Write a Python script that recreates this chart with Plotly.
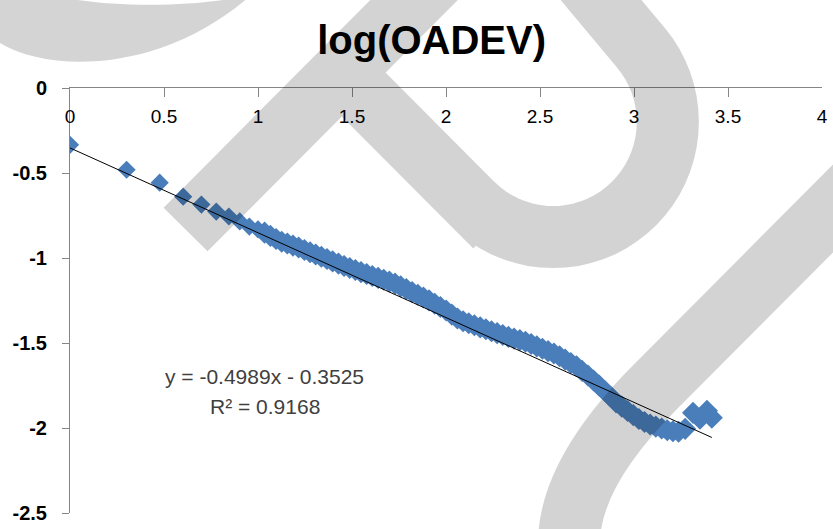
import math
import plotly.graph_objects as go

# ---------------- data ----------------
iso_x = [0, 0.301, 0.477, 0.602, 0.699, 0.778, 0.845, 0.903, 0.954, 1.0]
iso_y = [-0.334, -0.481, -0.557, -0.639, -0.686, -0.727, -0.756, -0.785, -0.815, -0.832]

dense_x = [1.035, 1.066, 1.096, 1.126, 1.156, 1.186, 1.216, 1.247, 1.277, 1.307,
           1.337, 1.367, 1.397, 1.428, 1.458, 1.488, 1.518, 1.548, 1.578, 1.608,
           1.639, 1.669, 1.699, 1.729, 1.759, 1.789, 1.820, 1.850, 1.880, 1.910,
           1.940, 1.970, 2.001, 2.031, 2.061, 2.091, 2.121, 2.151, 2.182, 2.212,
           2.242, 2.272, 2.302, 2.332, 2.362, 2.393, 2.423, 2.453, 2.483, 2.513,
           2.543, 2.574, 2.604, 2.634, 2.664, 2.694, 2.724, 2.755, 2.785, 2.815,
           2.845, 2.875, 2.905, 2.935, 2.966, 2.996, 3.026, 3.056, 3.086, 3.116,
           3.147, 3.177, 3.207, 3.237]
dense_y = [-0.851, -0.870, -0.888, -0.904, -0.915, -0.927, -0.938, -0.953, -0.966, -0.979,
           -0.993, -1.006, -1.020, -1.033, -1.047, -1.059, -1.071, -1.083, -1.094, -1.106,
           -1.117, -1.128, -1.139, -1.151, -1.167, -1.183, -1.201, -1.216, -1.232, -1.249,
           -1.269, -1.288, -1.309, -1.333, -1.356, -1.372, -1.384, -1.396, -1.408, -1.419,
           -1.431, -1.442, -1.453, -1.464, -1.474, -1.483, -1.493, -1.506, -1.520, -1.534,
           -1.548, -1.562, -1.578, -1.598, -1.618, -1.637, -1.664, -1.691, -1.721, -1.751,
           -1.782, -1.815, -1.849, -1.874, -1.900, -1.924, -1.947, -1.965, -1.979, -1.992,
           -2.003, -2.013, -2.019, -2.022]

end_x = [3.272, 3.314, 3.351, 3.388, 3.414]
end_y = [-2.005, -1.911, -1.946, -1.899, -1.940]

trend_slope = -0.4989
trend_intercept = -0.3525
trend_x = [0, 3.414]

x_ticks = [0, 0.5, 1, 1.5, 2, 2.5, 3, 3.5, 4]
x_ticktext = ["0", "0.5", "1", "1.5", "2", "2.5", "3", "3.5", "4"]
y_ticks = [0, -0.5, -1, -1.5, -2, -2.5]
y_ticktext = ["0", "-0.5", "-1", "-1.5", "-2", "-2.5"]

title_text = "log(OADEV)"
eq_text = "y = -0.4989x - 0.3525"
r2_text = "R² = 0.9168"

# ---------------- layout geometry ----------------
W, H = 833, 529
ML, MR, MT, MB = 70, 5, 88, 14.5
PW = W - ML - MR
PH = H - MT - MB


def pp(x, y):
    """pixel -> paper coordinates"""
    return (x - ML) / PW, (H - MB - y) / PH


def path_str(pts):
    s = []
    for i, (x, y) in enumerate(pts):
        a, b = pp(x, y)
        s.append(("M" if i == 0 else "L") + f"{a:.5f},{b:.5f}")
    return " ".join(s)


# watermark geometry (pixels)
cx, cy, rr = 557, 122, 115.6
loop_pts = [(344, 72.5), (475.25, 203.75)]
for deg in range(135, -41, -5):
    t = math.radians(deg)
    loop_pts.append((cx + rr * math.cos(t), cy + rr * math.sin(t)))
t40 = math.radians(-40)
ex, ey = cx + rr * math.cos(t40), cy + rr * math.sin(t40)
loop_pts.append((ex - 0.643 * 110, ey - 0.766 * 110))

band_b = [(186.5, 230), (450, -33.5)]
wm_path = path_str(band_b) + " " + path_str(loop_pts)


def qpath(cmds):
    out = []
    for c, pts in cmds:
        out.append(c + " ".join(f"{pp(x, y)[0]:.5f},{pp(x, y)[1]:.5f}" for x, y in pts))
    return " ".join(out)


band_d = qpath([("M", [(900, 148)]), ("L", [(660, 388)]), ("Q", [(573, 475), (573, 545)])])
band_a = qpath([("M", [(-5, -3)]), ("L", [(-5, 40)]),
                ("C", [(45, 74), (160, 74), (250, -3)]),
                ("L", [(240, -3)]),
                ("C", [(190, 7), (110, 7), (63, -3)])]) + " Z"

WM_OP = 0.17
shapes = [
    dict(type="path", xref="paper", yref="paper", path=wm_path,
         line=dict(color="black", width=62), fillcolor="rgba(0,0,0,0)",
         opacity=WM_OP, layer="above"),
    dict(type="path", xref="paper", yref="paper", path=band_d,
         line=dict(color="black", width=62), fillcolor="rgba(0,0,0,0)",
         opacity=WM_OP, layer="above"),
    dict(type="path", xref="paper", yref="paper", path=band_a,
         line=dict(width=0), fillcolor="black", opacity=WM_OP, layer="above"),
]

# ---------------- figure ----------------
fig = go.Figure()
fig.add_trace(go.Scatter(
    x=iso_x, y=iso_y, mode="markers",
    marker=dict(symbol="diamond", size=14, color="#4A7EBB", line=dict(width=0)),
    showlegend=False, hoverinfo="skip"))
fig.add_trace(go.Scatter(
    x=dense_x + end_x, y=dense_y + end_y, mode="markers",
    marker=dict(symbol="diamond", size=17, color="#4A7EBB", line=dict(width=0)),
    showlegend=False, hoverinfo="skip"))
fig.add_trace(go.Scatter(
    x=trend_x, y=[trend_slope * v + trend_intercept for v in trend_x],
    mode="lines", line=dict(color="black", width=1),
    showlegend=False, hoverinfo="skip"))

ex0, ey0 = pp(266.5, 378)
ex1, ey1 = pp(267, 408)
tx, _ = pp(434.5, 0)

fig.update_layout(
    width=W, height=H, autosize=False,
    margin=dict(l=ML, r=MR, t=MT, b=MB, pad=0),
    paper_bgcolor="white", plot_bgcolor="white",
    title=dict(text=title_text, x=tx, xref="paper", xanchor="center",
               y=1 - 40 / H, yref="container", yanchor="middle",
               font=dict(family="Liberation Sans, Arial", size=40,
                         color="black", weight="bold")),
    xaxis=dict(range=[0, 4], side="top", tickvals=x_ticks, ticktext=x_ticktext,
               ticks="inside", ticklen=9, tickcolor="#868686", tickwidth=1,
               ticklabelposition="inside", ticklabeloverflow="allow",
               ticklabelstandoff=14,
               showline=True, linecolor="#868686", linewidth=1,
               showgrid=False, zeroline=False,
               tickfont=dict(family="Liberation Sans, Arial", size=19, color="black")),
    yaxis=dict(range=[-2.5, 0], tickvals=y_ticks, ticktext=y_ticktext,
               ticks="outside", ticklen=7, tickcolor="#868686", tickwidth=1,
               ticklabelstandoff=11,
               showline=True, linecolor="#868686", linewidth=1,
               showgrid=False, zeroline=False,
               tickfont=dict(family="Liberation Sans, Arial", size=20, color="black",
                             weight="bold")),
    shapes=shapes,
    annotations=[
        dict(text=eq_text, x=ex0, y=ey0, xref="paper", yref="paper",
             showarrow=False, xanchor="center", yanchor="middle",
             font=dict(family="Liberation Sans, Arial", size=21, color="#404040")),
        dict(text=r2_text, x=ex1, y=ey1, xref="paper", yref="paper",
             showarrow=False, xanchor="center", yanchor="middle",
             font=dict(family="Liberation Sans, Arial", size=21, color="#404040")),
    ],
)

fig.write_html("out.html", config={"displayModeBar": False},
               post_script="document.body.style.margin='0px';document.body.style.padding='0px';")
